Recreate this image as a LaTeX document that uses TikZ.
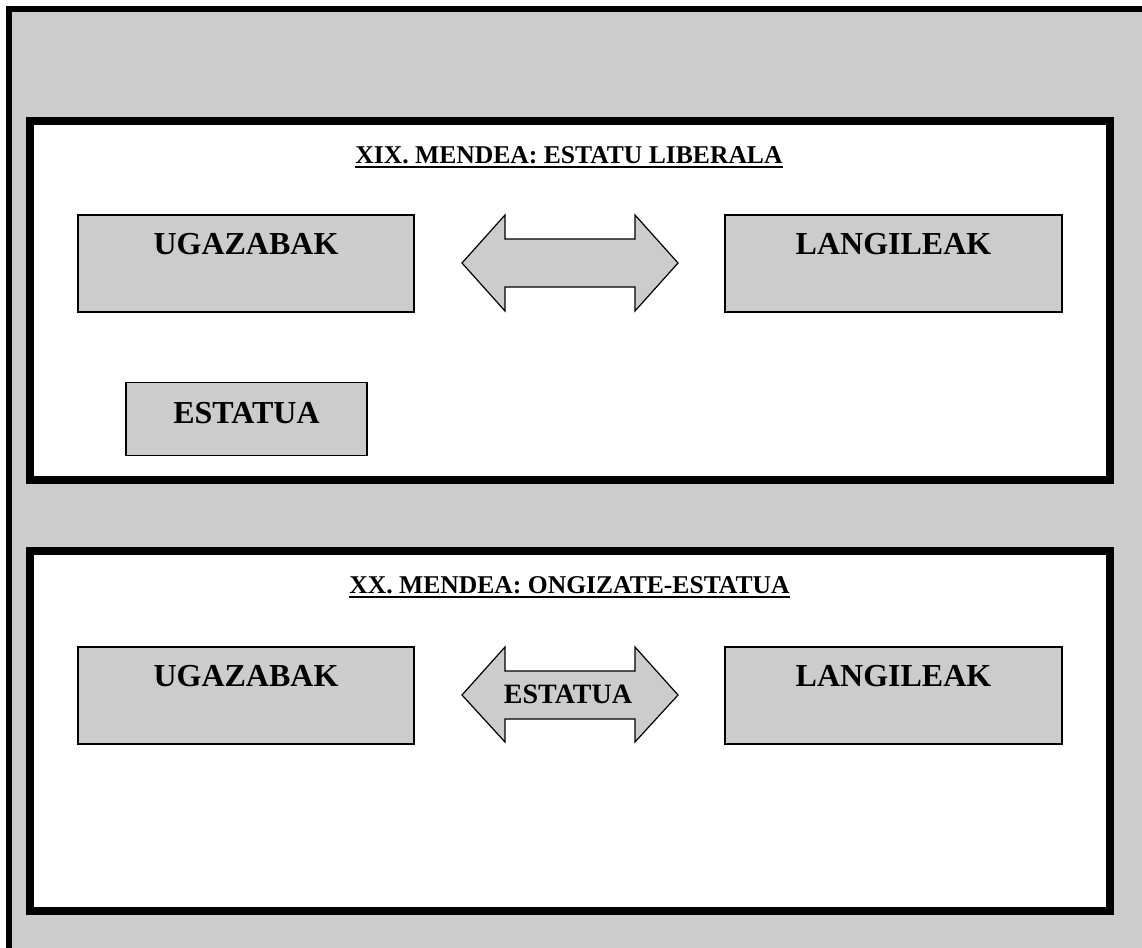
\documentclass[tikz,border=0pt]{standalone}
\usepackage{fontspec}
\setmainfont{Liberation Serif}
\definecolor{panelgray}{HTML}{CCCCCC}
\tikzset{
  frameline/.style={draw=black, line width=4.5pt},
  panel/.style={draw=black, fill=white, line width=6pt},
  graybox/.style={draw=black, fill=panelgray, line width=0.9pt, rectangle, inner sep=0pt},
  boxlabel/.style={anchor=base, inner sep=0pt, font=\fontsize{24}{28}\selectfont\bfseries},
  titlelabel/.style={anchor=base, inner sep=0pt, font=\fontsize{19.2}{23}\selectfont\bfseries},
  arrowlabel/.style={anchor=base, inner sep=0pt, font=\fontsize{21}{25}\selectfont\bfseries},
  dblarrow/.style={draw=black, fill=panelgray, line width=0.9pt, line join=miter}
}
\begin{document}
\begin{tikzpicture}[x=0.75pt, y=-0.75pt]
\useasboundingbox (0,0) rectangle (1142,947);
\clip (0,0) rectangle (1142,947);
\fill[white] (0,0) rectangle (1142,947);
% outer frame (cropped at right and bottom)
\draw[frameline, fill=panelgray] (9,9) rectangle (1170,980);
% panels
\draw[panel] (30,121) rectangle (1110,480);
\draw[panel] (30,551) rectangle (1110,911);

% ---- panel 1 ----
\node[titlelabel] (t1) at (569,163) {XIX. MENDEA: ESTATU LIBERALA};
\draw[line width=1.6pt] ([yshift=-3pt]t1.base west) -- ([yshift=-3pt]t1.base east);

\node[graybox, minimum width=252pt, minimum height=72.75pt] (u1) at (246,263.5) {};
\node[boxlabel] (u1t) at (246,254) {UGAZABAK};
\node[graybox, minimum width=252.75pt, minimum height=72.75pt] (l1) at (893.5,263.5) {};
\node[boxlabel] (l1t) at (893.5,254) {LANGILEAK};
\node[graybox, minimum width=180.75pt, minimum height=54.75pt] (e1) at (246.5,419) {};
\node[boxlabel] (e1t) at (246.5,423) {ESTATUA};

\draw[dblarrow] (462,263) -- (505,215) -- (505,239) -- (635,239) -- (635,215)
  -- (678,263) -- (635,311) -- (635,287) -- (505,287) -- (505,311) -- cycle;

% ---- panel 2 ----
\node[titlelabel] (t2) at (569.5,593) {XX. MENDEA: ONGIZATE-ESTATUA};
\draw[line width=1.6pt] ([yshift=-3pt]t2.base west) -- ([yshift=-3pt]t2.base east);

\node[graybox, minimum width=252pt, minimum height=72.75pt] (u2) at (246,695.5) {};
\node[boxlabel] (u2t) at (246,686) {UGAZABAK};
\node[graybox, minimum width=252.75pt, minimum height=72.75pt] (l2) at (893.5,695.5) {};
\node[boxlabel] (l2t) at (893.5,686) {LANGILEAK};

\draw[dblarrow] (462,695) -- (505,647) -- (505,671) -- (635,671) -- (635,647)
  -- (678,695) -- (635,742) -- (635,719) -- (505,719) -- (505,742) -- cycle;
\node[arrowlabel] (e2t) at (568,703) {ESTATUA};
\end{tikzpicture}
\end{document}
